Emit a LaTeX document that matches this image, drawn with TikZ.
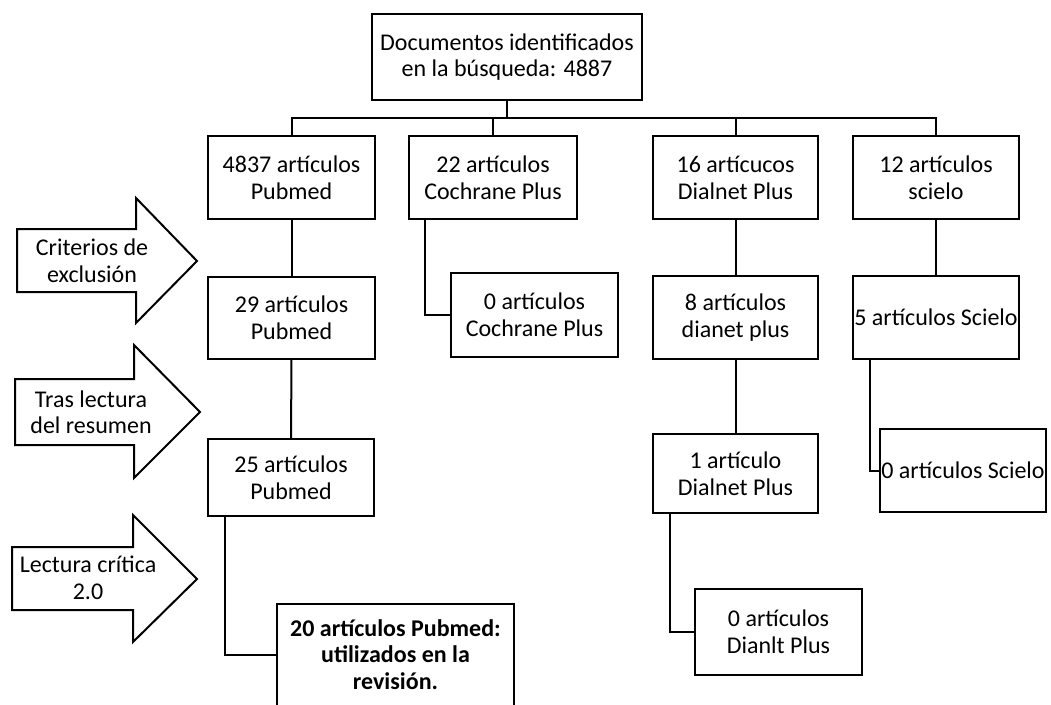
\documentclass[tikz,border=0pt]{standalone}
\usepackage{fontspec}
\setmainfont{Carlito}
\begin{document}
\begin{tikzpicture}[x=1pt,y=-1pt,
  lw/.style={line width=2pt},
  box/.style={draw,lw,inner sep=0pt,align=center,font=\fontsize{24}{27}\selectfont},
  lab/.style={inner sep=0pt,align=center,font=\fontsize{24}{26.5}\selectfont},
  conn/.style={lw}]
\useasboundingbox (0,0) rectangle (1051,704);
% top
\node[box,minimum width=270pt,minimum height=86pt,font=\fontsize{24}{25.5}\selectfont] (top) at (507,57) {Documentos identificados\\en la búsqueda: 4887};
\coordinate (bus) at (507,118);
% level 1
\node[box,minimum width=167pt,minimum height=83pt] (b1) at (291.5,177.5) {4837 artículos\\Pubmed};
\node[box,minimum width=168pt,minimum height=83pt] (b2) at (493,177.5) {22 artículos\\Cochrane Plus};
\node[box,minimum width=165pt,minimum height=83pt] (b3) at (735.5,177.5) {16 artícucos\\Dialnet Plus};
\node[box,minimum width=166pt,minimum height=83pt] (b4) at (936,177.5) {12 artículos\\scielo};
% level 2
\node[box,minimum width=167pt,minimum height=82pt] (p29) at (291.5,318) {29 artículos\\Pubmed};
\node[box,minimum width=167pt,minimum height=84pt] (c0) at (534.5,315) {0 artículos\\Cochrane Plus};
\node[box,minimum width=165pt,minimum height=83pt] (d8) at (735.5,317.5) {8 artículos\\dianet plus};
\node[box,minimum width=166pt,minimum height=83pt] (s5) at (936,317.5) {5 artículos Scielo};
% level 3
\node[box,minimum width=166pt,minimum height=77pt] (p25) at (291,477.5) {25 artículos\\Pubmed};
\node[box,minimum width=165pt,minimum height=79pt] (d1) at (735.5,473.5) {1 artículo\\Dialnet Plus};
\node[box,minimum width=166pt,minimum height=83pt] (s0) at (963,470.5) {0 artículos Scielo};
% level 4
\node[box,draw=none,minimum width=235pt,minimum height=99pt,font=\bfseries\fontsize{24}{26.5}\selectfont] (p20) at (395.5,654.5) {20 artículos Pubmed:\\utilizados en la\\revisión.};
\draw[lw] (p20.south west) -- (p20.north west) -- (p20.north east) -- (p20.south east);
\node[box,minimum width=167pt,minimum height=86pt] (dz) at (778.5,632) {0 artículos\\Dianlt Plus};
% connectors
\draw[conn] (top.south) -- (bus);
\draw[conn] (b1.north) -- (b1.north |- bus) -- (b4.north |- bus) -- (b4.north);
\draw[conn] (b2.north) -- (b2.north |- bus);
\draw[conn] (b3.north) -- (b3.north |- bus);
\draw[conn] (b1) -- (p29);
\draw[conn] (p29) -- (p25);
\draw[conn] (b3) -- (d8);
\draw[conn] (d8) -- (d1);
\draw[conn] (b4) -- (s5);
\draw[conn] ([xshift=-68pt]b2.south) |- (c0.west);
\draw[conn] ([xshift=-66pt]p25.south) |- (p20.west);
\draw[conn] ([xshift=-65.5pt]d1.south) |- (dz.west);
\draw[conn] ([xshift=-66pt]s5.south) |- (s0.west);
% block arrows
\draw[lw,line join=miter] (17,229) -- (136,229) -- (136,198) -- (197,261) -- (136,323) -- (136,292) -- (17,292) -- cycle;
\node[lab] (a1) at (92,261) {Criterios de\\exclusión};
\draw[lw,line join=miter] (15,379) -- (134,379) -- (134,345) -- (200,412) -- (134,478) -- (134,445) -- (15,445) -- cycle;
\node[lab] (a2) at (91,412) {Tras lectura\\del resumen};
\draw[lw,line join=miter] (12,547) -- (133,547) -- (133,515) -- (197,579) -- (133,642) -- (133,610) -- (12,610) -- cycle;
\node[lab] (a3) at (88,578) {Lectura crítica\\2.0};
\end{tikzpicture}
\end{document}
